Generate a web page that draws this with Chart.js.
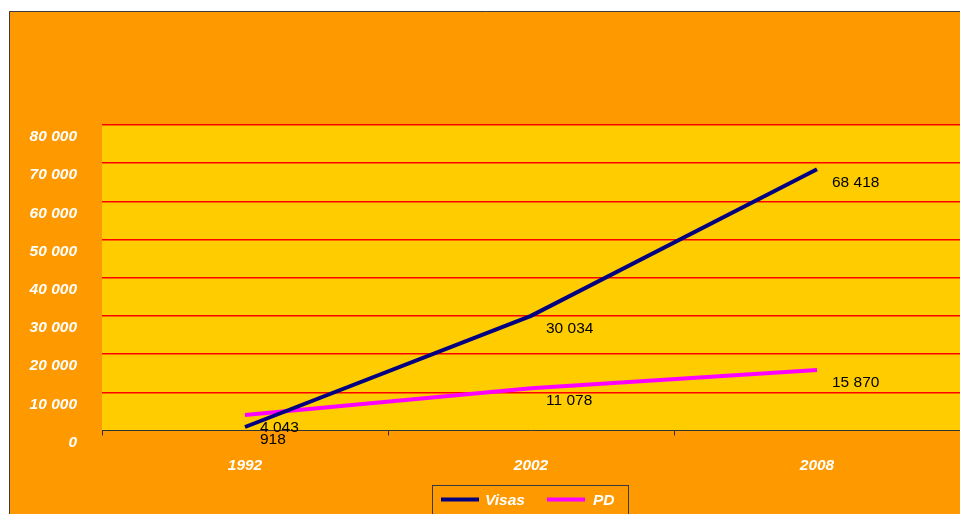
<!DOCTYPE html>
<html><head><meta charset="utf-8">
<script src="https://cdn.jsdelivr.net/npm/chart.js@4/dist/chart.umd.min.js"></script>
<style>html,body{margin:0;padding:0;background:#fff;overflow:hidden}#wrap{position:absolute;left:0;top:0;width:960px;height:514px}</style>
</head><body><div id="wrap"><canvas id="c" width="960" height="514"></canvas></div>
<script>
const years = ['1992', '2002', '2008'];
const visas = [918, 30034, 68418];
const pd = [4043, 11078, 15870];
const seriesNames = ['Visas', 'PD'];
const yMin = 0, yMax = 80000, yStep = 10000;

const FONT = 'Arial, "Liberation Sans", sans-serif';
const fmt = n => String(n).replace(/\B(?=(\d{3})+(?!\d))/g, ' ');

const bgPlugin = {
  id: 'bg',
  beforeDraw(chart) {
    const ctx = chart.ctx, a = chart.chartArea;
    ctx.save();
    ctx.fillStyle = '#ffffff';
    ctx.fillRect(0, 0, chart.width, chart.height);
    ctx.fillStyle = '#FF9900';
    ctx.fillRect(9, 11, chart.width, chart.height);
    ctx.strokeStyle = '#3a3a3a';
    ctx.lineWidth = 1;
    ctx.beginPath();
    ctx.moveTo(9.5, chart.height + 2);
    ctx.lineTo(9.5, 11.5);
    ctx.lineTo(chart.width + 2, 11.5);
    ctx.stroke();
    ctx.fillStyle = '#FFCC00';
    ctx.fillRect(a.left, a.top, a.right - a.left, a.bottom - a.top);
    ctx.restore();
  }
};

const labelPlugin = {
  id: 'vlabels',
  afterDatasetsDraw(chart) {
    const ctx = chart.ctx;
    ctx.save();
    ctx.font = '15.5px ' + FONT;
    ctx.fillStyle = '#000000';
    ctx.textAlign = 'left';
    ctx.textBaseline = 'middle';
    chart.data.datasets.forEach((ds, i) => {
      chart.getDatasetMeta(i).data.forEach((pt, j) => {
        ctx.fillText(fmt(ds.data[j]), pt.x + 15, pt.y + 13);
      });
    });
    ctx.restore();
  }
};

const legendPlugin = {
  id: 'boxlegend',
  afterDraw(chart) {
    const ctx = chart.ctx;
    ctx.save();
    ctx.strokeStyle = '#3a3a3a';
    ctx.lineWidth = 1;
    ctx.strokeRect(432.5, 485.5, 196, 40);
    ctx.font = 'italic bold 15.5px ' + FONT;
    ctx.fillStyle = '#ffffff';
    ctx.textBaseline = 'middle';
    ctx.textAlign = 'left';
    const items = [{x: 441, tx: 485}, {x: 547, tx: 593}];
    chart.data.datasets.forEach((ds, i) => {
      const it = items[i];
      ctx.strokeStyle = ds.borderColor;
      ctx.lineWidth = 4;
      ctx.beginPath();
      ctx.moveTo(it.x, 499.5);
      ctx.lineTo(it.x + 38, 499.5);
      ctx.stroke();
      ctx.fillText(ds.label, it.tx, 501);
    });
    ctx.restore();
  }
};

new Chart(document.getElementById('c'), {
  type: 'line',
  data: {
    labels: years,
    datasets: [
      { label: seriesNames[0], data: visas, borderColor: '#000080', backgroundColor: '#000080', borderWidth: 4, pointRadius: 0, tension: 0 },
      { label: seriesNames[1], data: pd, borderColor: '#FF00FF', backgroundColor: '#FF00FF', borderWidth: 4, pointRadius: 0, tension: 0 }
    ]
  },
  options: {
    responsive: false,
    animation: false,
    layout: { padding: { top: 125, left: 0, right: 0, bottom: 0 } },
    plugins: { legend: { display: false }, tooltip: { enabled: false }, title: { display: false } },
    scales: {
      x: {
        offset: true,
        afterFit(s) { s.height = 83.5; },
        grid: { offset: true, drawOnChartArea: false, drawTicks: true, tickLength: 5, color: '#333333' },
        border: { display: true, color: '#333333', width: 1 },
        ticks: { color: '#ffffff', padding: 21, font: { family: FONT, size: 15.5, style: 'italic', weight: 'bold' } }
      },
      y: {
        min: yMin, max: yMax,
        afterFit(s) { s.width = 102; },
        grid: { drawTicks: false, color: ctx => ctx.tick && ctx.tick.value === 0 ? 'rgba(0,0,0,0)' : '#FF0000', lineWidth: 1.6 },
        border: { display: false },
        ticks: { stepSize: yStep, padding: 25, labelOffset: 12, color: '#ffffff', callback: v => fmt(v), font: { family: FONT, size: 15.5, style: 'italic', weight: 'bold' } }
      }
    }
  },
  plugins: [bgPlugin, labelPlugin, legendPlugin]
});
</script>
</body></html>
